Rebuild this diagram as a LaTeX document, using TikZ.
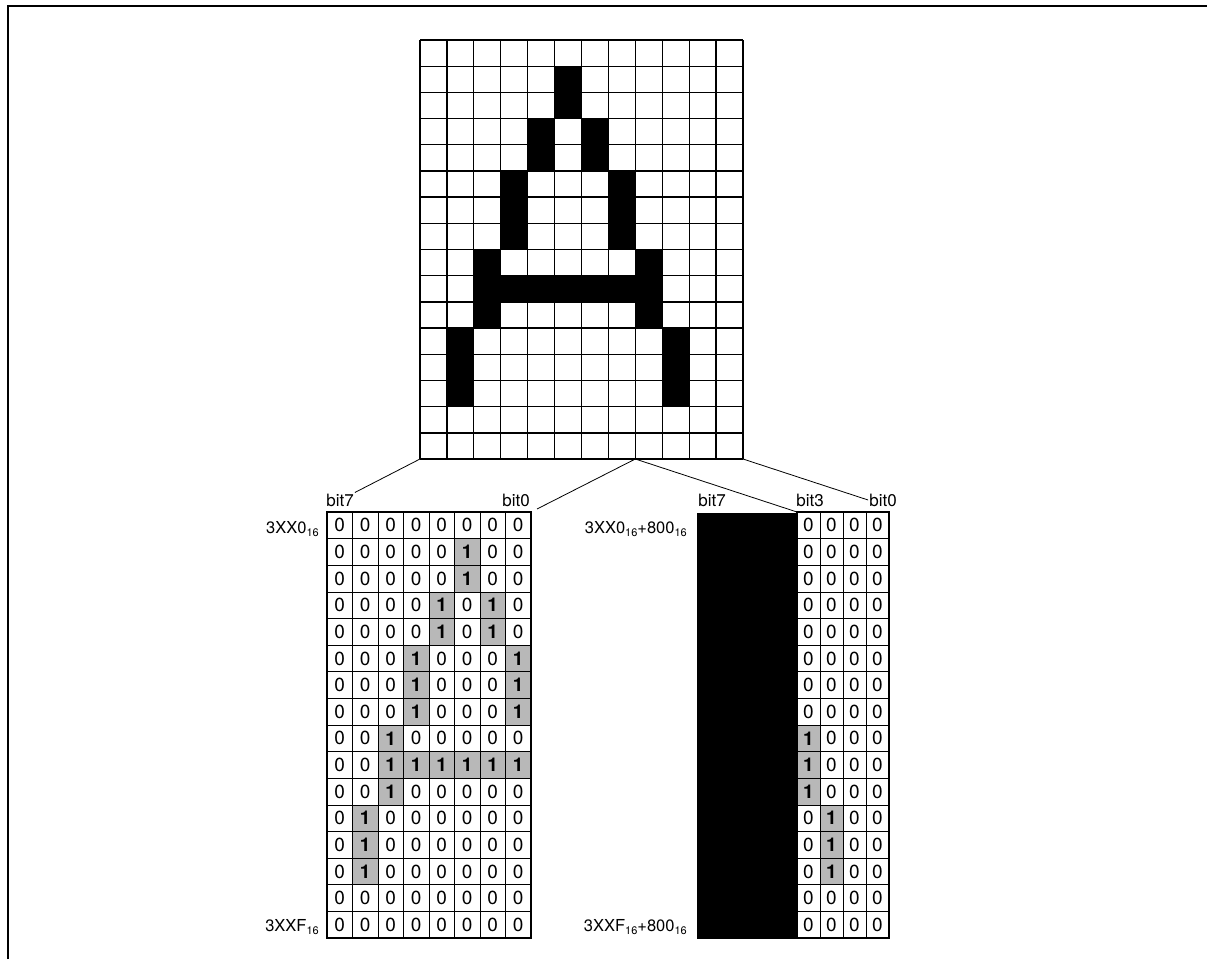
\documentclass[tikz,border=0pt]{standalone}
\usepackage{fontspec}
\setmainfont{TeX Gyre Heros}
\usetikzlibrary{positioning}

\newcommand{\hexsub}[1]{#1\raisebox{-0.3ex}{\fontsize{11}{11}\selectfont 16}}

\begin{document}
\begin{tikzpicture}[x=1pt, y=-1pt,
  pixel/.style={fill=black},
  shade/.style={fill=black!28},
  cell/.style={anchor=center, inner sep=0pt, font=\fontsize{19}{19}\selectfont},
  onecell/.style={cell, font=\fontsize{19}{19}\selectfont\bfseries},
  bitlabel/.style={inner sep=1pt, font=\fontsize{17}{17}\selectfont},
  addr/.style={anchor=east, inner sep=0pt, font=\fontsize{16.5}{16.5}\selectfont},
  gridline/.style={line width=1.3pt},
  tabline/.style={line width=0.6pt},
  border/.style={line width=1.6pt},
  link/.style={line width=0.8pt}
]
\useasboundingbox (0,0) rectangle (1207,959);

% frame (top and left only)
\draw[line width=2.4pt] (8,959) -- (8,6) -- (1207,6);

% the character, 12 x 16, one row per list entry
\def\glyph{{0,0,0,0,0,0,0,0,0,0,0,0},
  {0,0,0,0,0,1,0,0,0,0,0,0},
  {0,0,0,0,0,1,0,0,0,0,0,0},
  {0,0,0,0,1,0,1,0,0,0,0,0},
  {0,0,0,0,1,0,1,0,0,0,0,0},
  {0,0,0,1,0,0,0,1,0,0,0,0},
  {0,0,0,1,0,0,0,1,0,0,0,0},
  {0,0,0,1,0,0,0,1,0,0,0,0},
  {0,0,1,0,0,0,0,0,1,0,0,0},
  {0,0,1,1,1,1,1,1,1,0,0,0},
  {0,0,1,0,0,0,0,0,1,0,0,0},
  {0,1,0,0,0,0,0,0,0,1,0,0},
  {0,1,0,0,0,0,0,0,0,1,0,0},
  {0,1,0,0,0,0,0,0,0,1,0,0},
  {0,0,0,0,0,0,0,0,0,0,0,0},
  {0,0,0,0,0,0,0,0,0,0,0,0}}

% black upper nibble of the second byte
\fill (697,513) rectangle (797,939);

\foreach \bits [count=\r from 0] in \glyph {
  \foreach \b [count=\c from 0] in \bits {
    \ifnum\b=1
      \fill[pixel] ({420+\c*26.917},{40+\r*26.19}) rectangle ++(26.917,26.19);
    \fi
    \ifnum\c<8
      \ifnum\b=1
        \fill[shade] ({327+\c*25.5},{512+\r*26.625}) rectangle ++(25.5,26.625);
        \node[onecell] (lo-\r-\c) at ({327+(\c+0.5)*25.5},{512+(\r+0.5)*26.625}) {1};
      \else
        \node[cell] (lo-\r-\c) at ({327+(\c+0.5)*25.5},{512+(\r+0.5)*26.625}) {0};
      \fi
    \else
      \ifnum\b=1
        \fill[shade] ({797+(\c-8)*23},{512+\r*26.625}) rectangle ++(23,26.625);
        \node[onecell] (hi-\r-\c) at ({797+(\c-7.5)*23},{512+(\r+0.5)*26.625}) {1};
      \else
        \node[cell] (hi-\r-\c) at ({797+(\c-7.5)*23},{512+(\r+0.5)*26.625}) {0};
      \fi
    \fi
  }
}

% grid of the character
\foreach \i in {0,...,12}
  \draw[gridline] ({420+\i*26.917},40) -- ++(0,419);
\foreach \j in {0,...,16}
  \draw[gridline] (420,{40+\j*26.19}) -- ++(323,0);

% byte tables
\foreach \i in {1,...,7}
  \draw[tabline] ({327+\i*25.5},512) -- ++(0,426);
\foreach \i in {1,...,3}
  \draw[tabline] ({797+\i*23},512) -- ++(0,426);
\foreach \j in {1,...,15} {
  \draw[tabline] (327,{512+\j*26.625}) -- ++(204,0);
  \draw[tabline] (797,{512+\j*26.625}) -- ++(92,0);
}
\draw[border] (327,512) rectangle (531,938);
\draw[border] (797,512) rectangle (889,938);

% labels
\node[bitlabel] (lbit7) at (340,500) {bit7};
\node[bitlabel] (lbit0) at (516,500) {bit0};
\node[bitlabel] (rbit7) at (712,500) {bit7};
\node[bitlabel] (rbit3) at (810,500) {bit3};
\node[bitlabel] (rbit0) at (883,500) {bit0};

\node[addr] (lfirst) at (319,529) {\hexsub{3XX0}};
\node[addr] (llast) at (319,927) {\hexsub{3XXF}};
\node[addr] (rfirst) at (687,529) {\hexsub{3XX0}+\hexsub{800}};
\node[addr] (rlast) at (687,927) {\hexsub{3XXF}+\hexsub{800}};

% connectors
\coordinate (gsw) at (420,459);
\coordinate (gsplit) at (635.3,459);
\coordinate (gse) at (743,459);
\coordinate (lne) at (537,509);
\coordinate (rnw) at (797,512);

\draw[link] (gsw) -- (lbit7.north east);
\draw[link] (gsplit) -- (lne);
\draw[link] (gsplit) -- (rnw);
\draw[link] (gse) -- (rbit0.west);
\end{tikzpicture}
\end{document}
